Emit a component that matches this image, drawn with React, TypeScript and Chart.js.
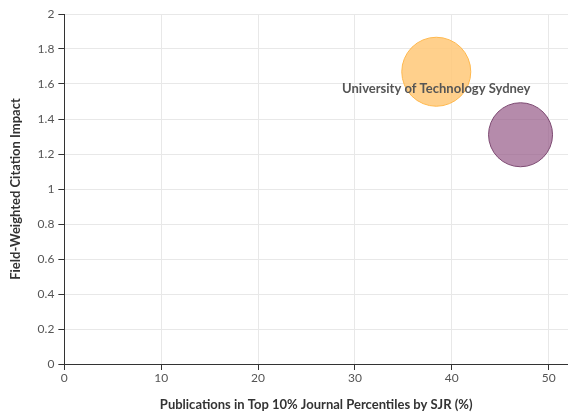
import React, { useEffect, useRef } from "react";
import { Chart, registerables } from "chart.js";

Chart.register(...registerables);

const names = ["University of Technology Sydney", ""];
const xValues = [38.4, 47.1];
const yValues = [1.67, 1.31];
const radii = [34.5, 32];
const fills = ["rgba(255,200,120,0.85)", "rgba(150,90,135,0.7)"];
const borders = ["#ffb84d", "#7d4a72"];
const xTitle = "Publications in Top 10% Journal Percentiles by SJR (%)";
const yTitle = "Field-Weighted Citation Impact";
const FONT = "Lato, 'Open Sans', sans-serif";

const labelPlugin = {
  id: "bubbleLabels",
  afterDatasetsDraw(chart: any) {
    const ctx = chart.ctx;
    ctx.save();
    ctx.font = `bold 13px ${FONT}`;
    ctx.fillStyle = "#555";
    ctx.textAlign = "center";
    ctx.textBaseline = "middle";
    chart.data.datasets.forEach((ds: any, i: number) => {
      const meta = chart.getDatasetMeta(i);
      const el = meta.data[0];
      if (el && names[i]) ctx.fillText(names[i], el.x, el.y + 17);
    });
    ctx.restore();
  },
};

export default function App() {
  const ref = useRef<HTMLCanvasElement>(null);
  useEffect(() => {
    document.body.style.margin = "0";
    const chart = new Chart(ref.current!, {
      type: "bubble",
      data: {
        datasets: xValues.map((x, i) => ({
          label: names[i] || "Other",
          data: [{ x, y: yValues[i], r: radii[i] }],
          backgroundColor: fills[i],
          borderColor: borders[i],
          borderWidth: 1,
        })),
      },
      options: {
        animation: false,
        responsive: false,
        layout: { autoPadding: false, padding: { top: 14, right: 0, left: 8, bottom: 0 } },
        plugins: { legend: { display: false }, tooltip: { enabled: false } },
        scales: {
          x: {
            type: "linear",
            min: 0,
            max: 52,
            ticks: { stepSize: 10, includeBounds: false, color: "#555", font: { family: FONT, size: 12 }, padding: 1 },
            grid: { color: "#e8e8e8", tickLength: 6, tickColor: "#333" },
            border: { color: "#333" },
            title: { display: true, text: xTitle, color: "#333", font: { family: FONT, size: 13, weight: "bold" }, padding: { top: 11, bottom: 0 } },
          },
          y: {
            type: "linear",
            min: 0,
            max: 2,
            ticks: {
              stepSize: 0.2,
              color: "#555",
              font: { family: FONT, size: 12 },
              padding: 4,
              callback: (v: any) => String(Math.round(Number(v) * 10) / 10),
            },
            grid: { color: "#e8e8e8", tickLength: 6, tickColor: "#333" },
            border: { color: "#333" },
            title: { display: true, text: yTitle, color: "#333", font: { family: FONT, size: 13, weight: "bold" }, padding: { top: 0, bottom: 10 } },
          },
        },
      },
      plugins: [labelPlugin],
    });
    return () => chart.destroy();
  }, []);
  return (
    <div style={{ width: 568, height: 413 }}>
      <canvas ref={ref} width={568} height={413} style={{ display: "block" }} />
    </div>
  );
}
